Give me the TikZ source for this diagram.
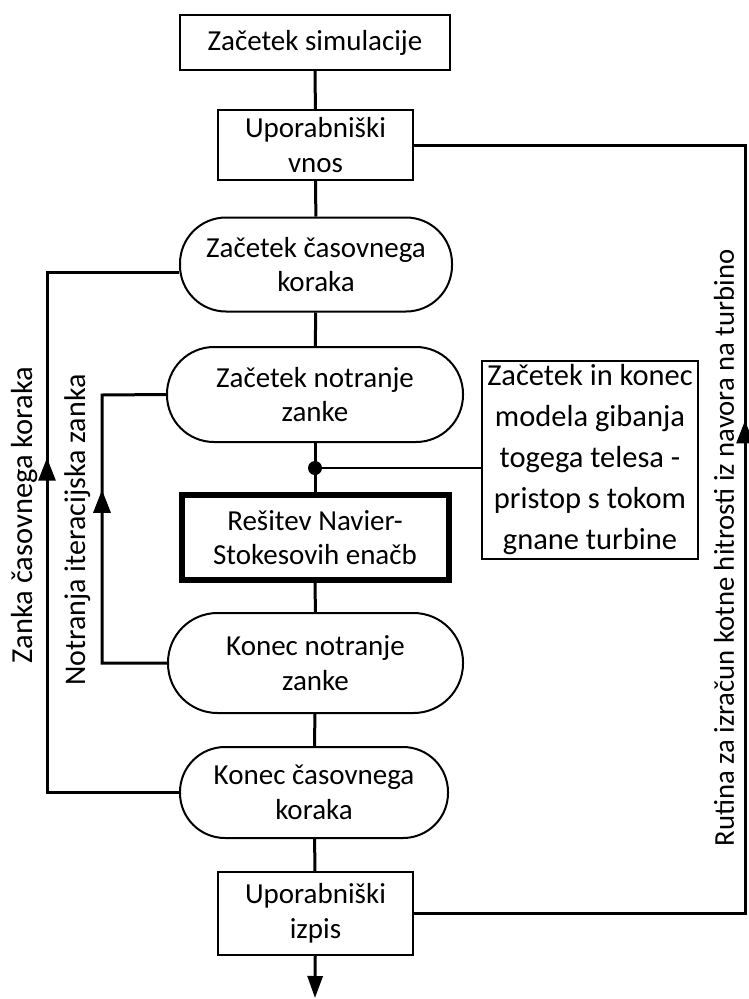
\documentclass[tikz,border=0pt]{standalone}
\usepackage{fontspec}
\setmainfont{Carlito}
\usetikzlibrary{arrows.meta,decorations.markings}
\begin{document}
\begin{tikzpicture}[x=1bp,y=-1bp,
  every node/.style={font=\fontsize{29bp}{34.5bp}\selectfont, align=center, inner sep=0pt},
  sqbox/.style={draw, line width=1.3bp, fill=white},
  stadium/.style={draw, line width=2bp, fill=white},
  conn/.style={line width=3bp},
  thinconn/.style={line width=2bp},
  tip/.style={-{Triangle[length=22bp,width=15bp]}},
  midarrow/.style={postaction={decorate}, decoration={markings,
     mark=at position #1 with {\arrow{Triangle[length=23bp,width=17bp]}}}}
]
\useasboundingbox (0,0) rectangle (749,999);

% nodes
\node[sqbox, minimum width=270bp, minimum height=55bp] (sim) at (315,42.5) {Začetek simulacije};
\node[sqbox, minimum width=195bp, minimum height=70bp] (vnos) at (315.5,145) {Uporabniški\\vnos};
\node[stadium, minimum width=272bp, minimum height=94bp, rounded corners=46bp] (zck) at (316,264.5) {Začetek časovnega\\koraka};
\node[stadium, minimum width=296bp, minimum height=95bp, rounded corners=47bp] (znz) at (315,394.5) {Začetek notranje\\zanke};
\node[draw, line width=6bp, fill=white, minimum width=267bp, minimum height=85bp] (nav) at (315,537.5) {Rešitev Navier-\\Stokesovih enačb};
\node[stadium, minimum width=295bp, minimum height=100bp, rounded corners=49.5bp] (knz) at (315.5,663) {Konec notranje\\zanke};
\node[stadium, minimum width=268bp, minimum height=91bp, rounded corners=45bp] (kck) at (314,792.5) {Konec časovnega\\koraka};
\node[sqbox, minimum width=195bp, minimum height=83bp] (izpis) at (315.5,913.5) {Uporabniški\\izpis};
\node[sqbox, minimum width=216bp, minimum height=198bp, font=\fontsize{30.5bp}{41bp}\selectfont] (rb) at (590,460) {Začetek in konec\\modela gibanja\\togega telesa -\\pristop s tokom\\gnane turbine};

% labels
\node[rotate=90, font=\fontsize{30.5bp}{35bp}\selectfont] (lab1) at (25,515) {Zanka časovnega koraka};
\node[rotate=90, font=\fontsize{30bp}{35bp}\selectfont] (lab2) at (78,530) {Notranja iteracijska zanka};
\node[rotate=90, font=\fontsize{28.7bp}{35bp}\selectfont] (lab3) at (724,548) {Rutina za izračun kotne hitrosti iz navora na turbino};

% coordinates
\coordinate (LT) at (47,272);
\coordinate (IL) at (102,395);
\coordinate (RT) at (745,145);
\coordinate (END) at (315,998);
\coordinate (dot) at (315,468);

% main vertical connectors
\draw[conn] (sim) -- (vnos);
\draw[conn] (vnos) -- (zck);
\draw[conn] (zck) -- (znz);
\draw[conn] (znz) -- (nav);
\draw[conn] (nav) -- (knz);
\draw[conn] (knz) -- (kck);
\draw[conn] (kck) -- (izpis);
\draw[conn, tip] (izpis) -- (END);

% dot and link to side box
\fill (dot) circle (7bp);
\draw[thinconn] (dot) -- (dot -| rb.west);

% outer loop
\draw[conn, midarrow=0.595] (kck.west) -| (LT) -- (zck.west |- LT);
% inner loop
\draw[conn, midarrow=0.60] (knz.west) -| (IL) -- (znz.west);
% right loop
\draw[conn, midarrow=0.576] (izpis.east) -| (RT) -- (vnos.east);
\end{tikzpicture}
\end{document}
